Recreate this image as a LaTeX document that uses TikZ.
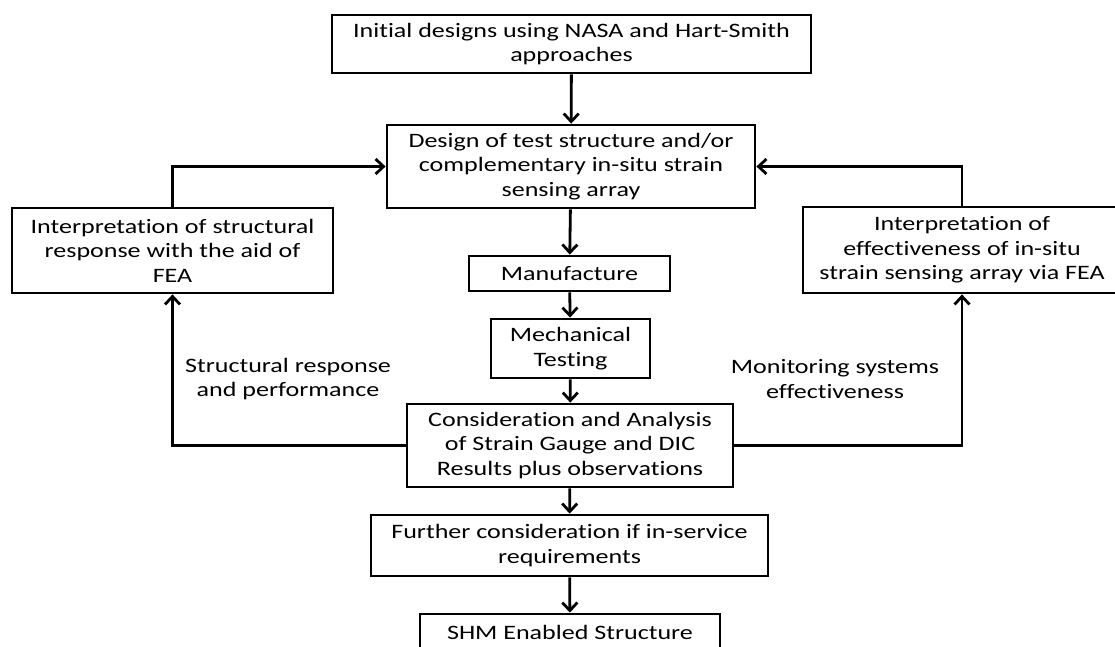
\documentclass[tikz,border=0pt]{standalone}
\usepackage{fontspec}
\setmainfont{Carlito}[Ligatures=NoCommon, FakeStretch=1.27]
\usetikzlibrary{arrows.meta}

\tikzset{
    box/.style={draw=black, line width=2.8pt, align=center, inner sep=0pt,
        font=\fontsize{20.5}{24.5}\selectfont},
    lbl/.style={align=center, inner sep=0pt, font=\fontsize{20.5}{24.5}\selectfont},
    arr/.style={black, line width=2.8pt, -{Straight Barb[length=8pt,width=15pt,line width=2.8pt]}}
}

\begin{document}
\begin{tikzpicture}[x=1pt, y=-1pt]
    \useasboundingbox (0,0) rectangle (1115,646);
    \clip (0,0) rectangle (1115,646);
    % boxes
    \node[box, minimum width=479pt, minimum height=58pt] (init) at (571.5,44) {Initial designs using NASA and Hart-Smith\\approaches};
    \node[box, minimum width=368pt, minimum height=83pt] (design) at (571,166.5) {Design of test structure and/or\\complementary in-situ strain\\sensing array};
    \node[box, minimum width=321pt, minimum height=85pt] (interpS) at (172.5,250.5) {Interpretation of structural\\response with the aid of\\FEA};
    \node[box, minimum width=318pt, minimum height=86pt] (interpE) at (962,250) {Interpretation of\\effectiveness of in-situ\\strain sensing array via FEA};
    \node[box, minimum width=201pt, minimum height=35pt] (manuf) at (569.5,273.5) {Manufacture};
    \node[box, minimum width=159pt, minimum height=59pt] (mech) at (570.5,348.5) {Mechanical\\Testing};
    \node[box, minimum width=326pt, minimum height=83pt] (consid) at (570,445.5) {Consideration and Analysis\\of Strain Gauge and DIC\\Results plus observations};
    \node[box, minimum width=397pt, minimum height=61pt] (further) at (569.5,545.5) {Further consideration if in-service\\requirements};
    \node[box, minimum width=300pt, minimum height=36pt] (shm) at (570,632) {SHM Enabled Structure};
    % labels
    \node[lbl] (lblS) at (288,379) {Structural response\\and performance};
    \node[lbl] (lblM) at (835,379) {Monitoring systems\\effectiveness};
    % main flow
    \draw[arr] (init) -- (design);
    \draw[arr] (design) -- (manuf);
    \draw[arr] (manuf) -- (mech);
    \draw[arr] (mech) -- (consid);
    \draw[arr] (consid) -- (further);
    \draw[arr] (further) -- (shm);
    % feedback loops
    \draw[arr] (consid.west) -| (interpS.south);
    \draw[arr] (interpS.north) |- (design.west);
    \draw[arr] (consid.east) -| (interpE.south);
    \draw[arr] (interpE.north) |- (design.east);
\end{tikzpicture}
\end{document}
